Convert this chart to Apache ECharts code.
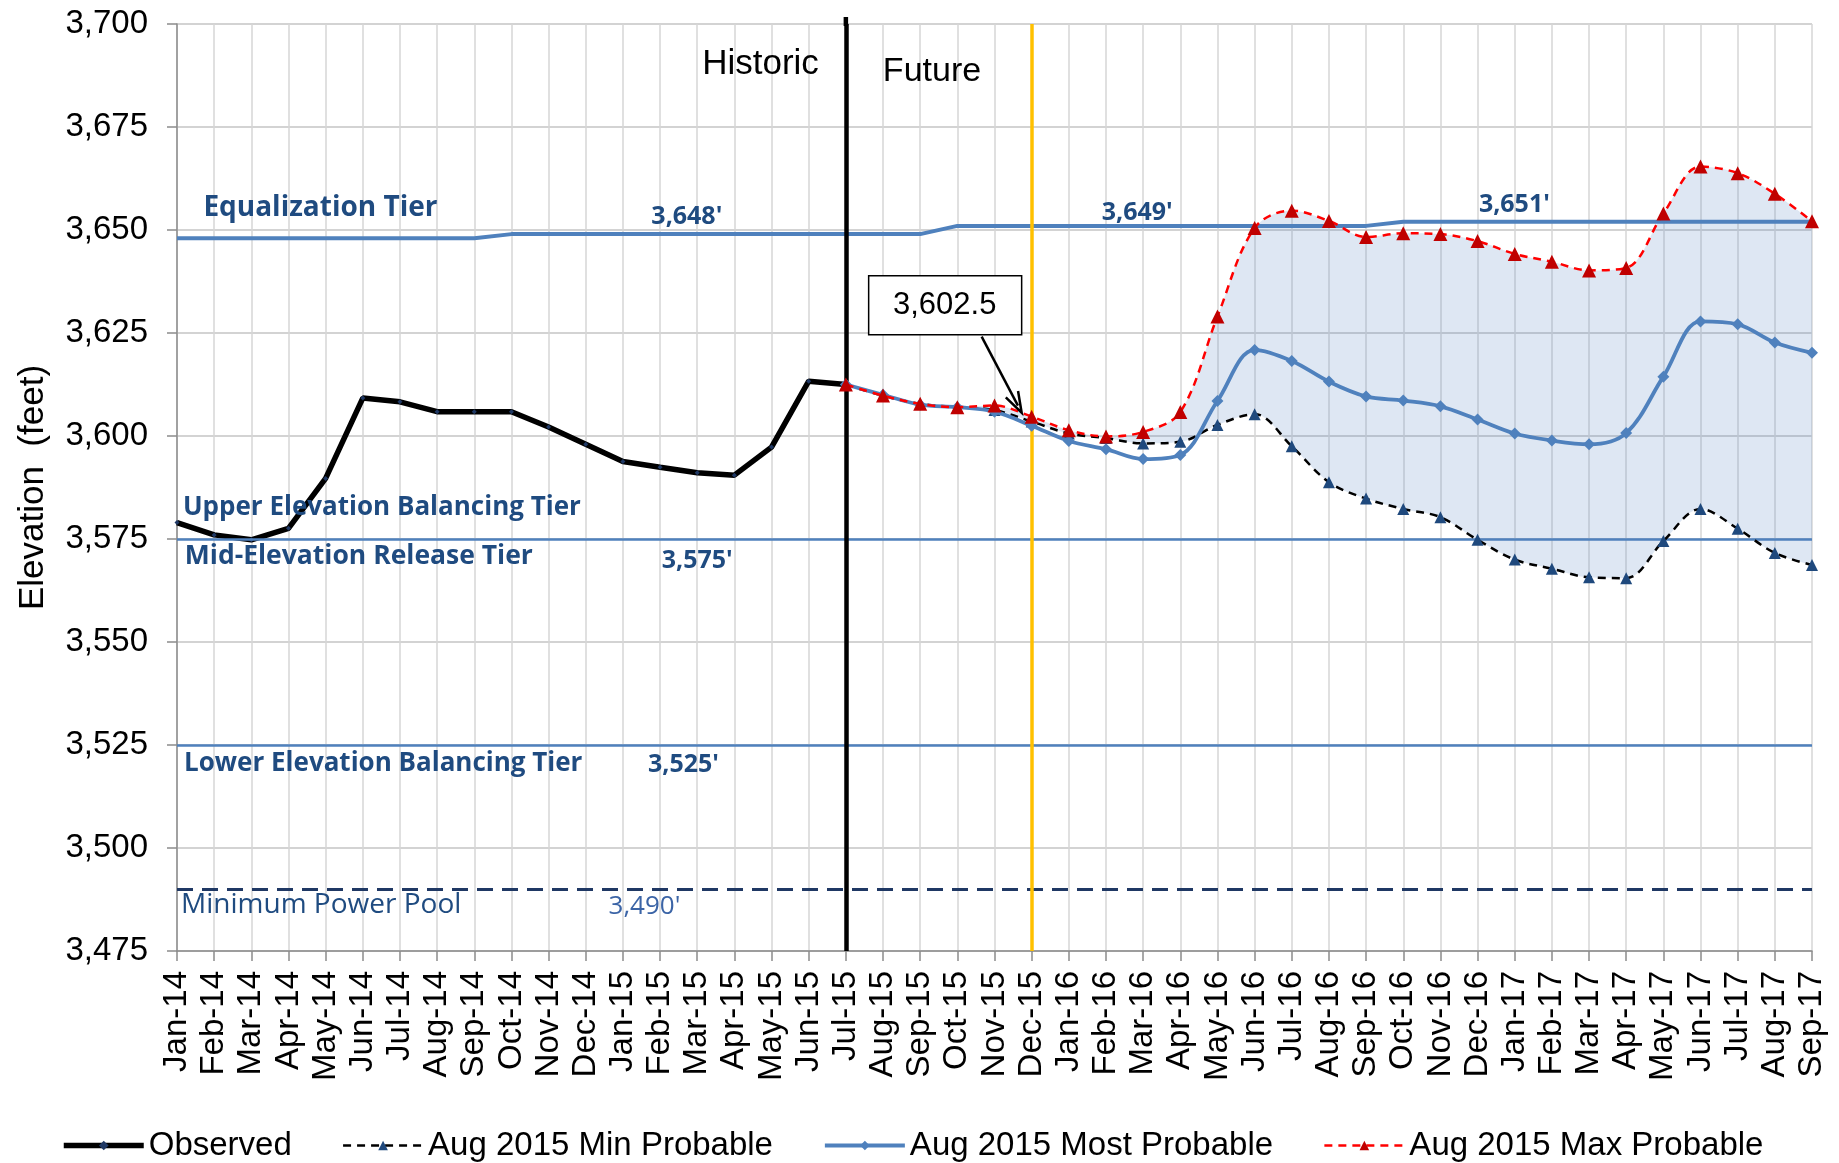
<!DOCTYPE html>
<html>
<head>
<meta charset="utf-8">
<title>Lake Powell Elevations</title>
<script src="https://cdn.jsdelivr.net/npm/echarts@6/dist/echarts.min.js"></script>
<style>
  html, body { margin: 0; padding: 0; background: #fff; }
  #chart { width: 1839px; height: 1163px; }
</style>
</head>
<body>
<div id="chart"></div>
<script>
// months on the x axis
var months = ['Jan-14', 'Feb-14', 'Mar-14', 'Apr-14', 'May-14', 'Jun-14', 'Jul-14', 'Aug-14', 'Sep-14',
  'Oct-14', 'Nov-14', 'Dec-14', 'Jan-15', 'Feb-15', 'Mar-15', 'Apr-15', 'May-15', 'Jun-15', 'Jul-15',
  'Aug-15', 'Sep-15', 'Oct-15', 'Nov-15', 'Dec-15', 'Jan-16', 'Feb-16', 'Mar-16', 'Apr-16', 'May-16',
  'Jun-16', 'Jul-16', 'Aug-16', 'Sep-16', 'Oct-16', 'Nov-16', 'Dec-16', 'Jan-17', 'Feb-17', 'Mar-17',
  'Apr-17', 'May-17', 'Jun-17', 'Jul-17', 'Aug-17', 'Sep-17'];

// Jan-14 .. Jul-15
var observed = [3579, 3576, 3574.8, 3577.6, 3589.7, 3609.2, 3608.3, 3605.9, 3605.9, 3605.9, 3602.2,
  3598, 3593.8, 3592.4, 3591.1, 3590.5, 3597.3, 3613.3, 3612.5];

// Jul-15 .. Sep-17
var minProbable = [3612.5, 3609.8, 3607.8, 3607, 3606.3, 3603.5, 3600.6, 3599.5, 3598.2, 3598.6,
  3602.7, 3605.3, 3597.5, 3588.8, 3584.8, 3582.3, 3580.3, 3574.8, 3570, 3567.8, 3565.7, 3565.5,
  3574.5, 3582.3, 3577.5, 3571.6, 3568.7];
var mostProbable = [3612.5, 3610, 3607.6, 3607, 3605.9, 3602.5, 3598.8, 3596.8, 3594.4, 3595.4,
  3608.5, 3620.9, 3618.2, 3613.2, 3609.6, 3608.6, 3607.2, 3604, 3600.6, 3598.9, 3598, 3600.7,
  3614.4, 3627.8, 3627.1, 3622.7, 3620.2];
var maxProbable = [3612.5, 3609.8, 3607.8, 3607, 3607.4, 3604.7, 3601.4, 3599.9, 3601, 3605.8,
  3629, 3650.5, 3654.7, 3652.2, 3648.3, 3649.2, 3649, 3647.3, 3644.2, 3642.3, 3640.2, 3640.8,
  3654, 3665.4, 3663.8, 3658.8, 3652.1];

// equalization tier elevation by month
var equalizationTier = [3648, 3648, 3648, 3648, 3648, 3648, 3648, 3648, 3648,
  3649, 3649, 3649, 3649, 3649, 3649, 3649, 3649, 3649, 3649, 3649, 3649,
  3651, 3651, 3651, 3651, 3651, 3651, 3651, 3651, 3651, 3651, 3651, 3651,
  3652, 3652, 3652, 3652, 3652, 3652, 3652, 3652, 3652, 3652, 3652, 3652];

var midElevationTier = 3575;
var lowerElevationTier = 3525;
var minPowerPool = 3490;
var splitMonth = 'Jul-15';
var currentMonth = 'Dec-15';
var currentValue = 3602.5;
var yTicks = { min: 3475, max: 3700, interval: 25 };

var FONT = "'Liberation Sans', Arial, sans-serif";
var TIER_FONT = "'Open Sans', 'Noto Sans', sans-serif";
var TIER_COLOR = '#1f4b80';

var futureStart = months.indexOf(splitMonth);
function pad(arr, start) {
  var out = [];
  for (var i = 0; i < months.length; i++) {
    var k = i - start;
    out.push(k >= 0 && k < arr.length ? arr[k] : null);
  }
  return out;
}
var bandDiff = maxProbable.map(function (v, i) { return +(v - minProbable[i]).toFixed(2); });

var chart = echarts.init(document.getElementById('chart'));
chart.setOption({
  animation: false,
  backgroundColor: '#fff',
  grid: { left: 177, right: 27, top: 24, bottom: 212, containLabel: false },
  legend: {
    data: ['Observed', 'Aug 2015 Min Probable', 'Aug 2015 Most Probable', 'Aug 2015 Max Probable'],
    left: 56,
    top: 1124,
    itemWidth: 80,
    itemHeight: 12,
    itemGap: 50,
    lineStyle: { width: 'inherit' },
    textStyle: { fontFamily: FONT, fontSize: 33, color: '#000' }
  },
  xAxis: {
    type: 'category',
    data: months,
    boundaryGap: false,
    axisLine: { lineStyle: { color: '#8c8c8c', width: 1.5 } },
    axisTick: { show: true, interval: 0, length: 10, lineStyle: { color: '#8c8c8c', width: 1.5 } },
    axisLabel: { interval: 0, rotate: 90, margin: 20, fontFamily: FONT, fontSize: 33, color: '#000' },
    splitLine: { show: true, interval: 0, lineStyle: { color: '#d6d6d6', width: 1.5 } }
  },
  yAxis: {
    type: 'value',
    min: yTicks.min,
    max: yTicks.max,
    interval: yTicks.interval,
    name: 'Elevation  (feet)',
    nameLocation: 'middle',
    nameRotate: 90,
    nameGap: 126,
    nameTextStyle: { fontFamily: FONT, fontSize: 35, color: '#000' },
    axisLine: { show: true, lineStyle: { color: '#8c8c8c', width: 1.5 } },
    axisTick: { show: true, length: 10, lineStyle: { color: '#8c8c8c', width: 1.5 } },
    axisLabel: {
      margin: 29, fontFamily: FONT, fontSize: 33, color: '#000',
      formatter: function (v) { return v.toLocaleString('en-US'); }
    },
    splitLine: { lineStyle: { color: '#c4c4c4', width: 1.5 } }
  },
  series: [
    {
      name: 'band-base', type: 'line', stack: 'band', data: pad(minProbable, futureStart),
      smooth: 0.35, symbol: 'none', lineStyle: { opacity: 0 }, z: 1, silent: true
    },
    {
      name: 'band', type: 'line', stack: 'band', data: pad(bandDiff, futureStart),
      smooth: 0.35, symbol: 'none', lineStyle: { opacity: 0 },
      areaStyle: { color: 'rgba(79,129,189,0.27)' }, z: 1, silent: true,
      markLine: {
        silent: true, symbol: 'none', label: { show: false },
        data: [
          { yAxis: midElevationTier, lineStyle: { color: '#4f81bd', width: 2.5, type: 'solid' } },
          { yAxis: lowerElevationTier, lineStyle: { color: '#4f81bd', width: 2.5, type: 'solid' } },
          { yAxis: minPowerPool, lineStyle: { color: '#1f3864', width: 3, type: [16, 9] } },
          { xAxis: currentMonth, lineStyle: { color: '#ffc000', width: 3.5, type: 'solid' } },
          { xAxis: splitMonth, lineStyle: { color: '#000', width: 4.5, type: 'solid' } }
        ]
      }
    },
    {
      name: 'Equalization Tier', type: 'line', data: equalizationTier,
      symbol: 'none', lineStyle: { color: '#4f81bd', width: 4 }, z: 2, silent: true
    },
    {
      name: 'Observed', type: 'line', data: pad(observed, 0),
      symbol: 'diamond', symbolSize: 5, showSymbol: true,
      itemStyle: { color: '#1f3864' },
      lineStyle: { color: '#000', width: 5.5 }, z: 4
    },
    {
      name: 'Aug 2015 Min Probable', type: 'line', data: pad(minProbable, futureStart),
      smooth: 0.35, symbol: 'triangle', symbolSize: 12,
      itemStyle: { color: '#1f497d' },
      lineStyle: { color: '#000', width: 2.5, type: [8, 6] }, z: 5
    },
    {
      name: 'Aug 2015 Most Probable', type: 'line', data: pad(mostProbable, futureStart),
      smooth: 0.35, symbol: 'diamond', symbolSize: 12,
      itemStyle: { color: '#4f81bd' },
      lineStyle: { color: '#4f81bd', width: 3.8 }, z: 6
    },
    {
      name: 'Aug 2015 Max Probable', type: 'line', data: pad(maxProbable, futureStart),
      smooth: 0.35, symbol: 'triangle', symbolSize: 14,
      itemStyle: { color: '#c00000' },
      lineStyle: { color: '#ff0000', width: 2.5, type: [8, 6] }, z: 7
    }
  ]
});

// pixel position for a (fractional) month index and an elevation
function at(xi, v) {
  var a = chart.convertToPixel({ gridIndex: 0 }, [0, v]);
  var b = chart.convertToPixel({ gridIndex: 0 }, [1, v]);
  return [a[0] + (b[0] - a[0]) * xi, a[1]];
}

function tierText(str, xi, v, align, weight, size, color) {
  var p = at(xi, v);
  return {
    type: 'text', x: p[0], y: p[1], z: 20, silent: true,
    style: {
      text: str, textAlign: align, textVerticalAlign: 'middle',
      fontFamily: TIER_FONT, fontWeight: weight, fontSize: size, fill: color || TIER_COLOR
    }
  };
}

var split = at(futureStart, 3690);
var topLine = at(futureStart, yTicks.max);
var cur = at(months.indexOf(currentMonth), currentValue);
var boxL = cur[0] - 163, boxT = cur[1] - 150;
var arrowFrom = [cur[0] - 50, cur[1] - 89];
var arrowTo = [cur[0] - 10, cur[1] - 13];
var ang = Math.atan2(arrowTo[1] - arrowFrom[1], arrowTo[0] - arrowFrom[0]);
function head(len, spread) {
  return [
    arrowTo,
    [arrowTo[0] - len * Math.cos(ang - spread), arrowTo[1] - len * Math.sin(ang - spread)],
    [arrowTo[0] - len * Math.cos(ang + spread), arrowTo[1] - len * Math.sin(ang + spread)]
  ];
}
var h = head(22, 0.32);

chart.setOption({
  graphic: [
    tierText('Equalization Tier', 0.71, 3655.3, 'left', 700, 28),
    tierText("3,648'", 13.72, 3653.1, 'center', 700, 25),
    tierText("3,649'", 25.84, 3654.2, 'center', 700, 25),
    tierText("3,651'", 35.99, 3656.1, 'center', 700, 25),
    tierText('Upper Elevation Balancing Tier', 0.16, 3582.6, 'left', 700, 26),
    tierText('Mid-Elevation Release Tier', 0.21, 3570.7, 'left', 700, 26.5),
    tierText("3,575'", 14.0, 3569.6, 'center', 700, 25),
    tierText('Lower Elevation Balancing Tier', 0.19, 3520.6, 'left', 700, 26),
    tierText("3,525'", 13.63, 3520.1, 'center', 700, 25),
    tierText('Minimum Power Pool', 0.11, 3486.1, 'left', 400, 28),
    tierText("3,490'", 12.58, 3485.8, 'center', 400, 26, '#3b64a6'),
    {
      type: 'line', z: 20, silent: true,
      shape: { x1: topLine[0], y1: topLine[1] - 7, x2: topLine[0], y2: topLine[1] + 2 },
      style: { stroke: '#000', lineWidth: 4.5 }
    },
    {
      type: 'text', x: split[0] - 27, y: split[1] - 1, z: 20, silent: true,
      style: { text: 'Historic', textAlign: 'right', textVerticalAlign: 'middle', fontFamily: FONT, fontSize: 35, fill: '#000' }
    },
    {
      type: 'text', x: split[0] + 37, y: split[1] + 6, z: 20, silent: true,
      style: { text: 'Future', textAlign: 'left', textVerticalAlign: 'middle', fontFamily: FONT, fontSize: 34, fill: '#000' }
    },
    {
      type: 'rect', z: 20, silent: true,
      shape: { x: boxL, y: boxT, width: 153, height: 59 },
      style: { fill: '#fff', stroke: '#000', lineWidth: 1.5 }
    },
    {
      type: 'text', x: boxL + 76, y: boxT + 30, z: 21, silent: true,
      style: { text: '3,602.5', textAlign: 'center', textVerticalAlign: 'middle', fontFamily: FONT, fontSize: 31, fill: '#000' }
    },
    {
      type: 'line', z: 20, silent: true,
      shape: { x1: arrowFrom[0], y1: arrowFrom[1], x2: arrowTo[0] - 8 * Math.cos(ang), y2: arrowTo[1] - 8 * Math.sin(ang) },
      style: { stroke: '#000', lineWidth: 2.5 }
    },
    {
      type: 'polyline', z: 20, silent: true,
      shape: { points: [h[1], h[0], h[2]] },
      style: { stroke: '#000', lineWidth: 2.5, fill: null }
    }
  ]
});
</script>
</body>
</html>
